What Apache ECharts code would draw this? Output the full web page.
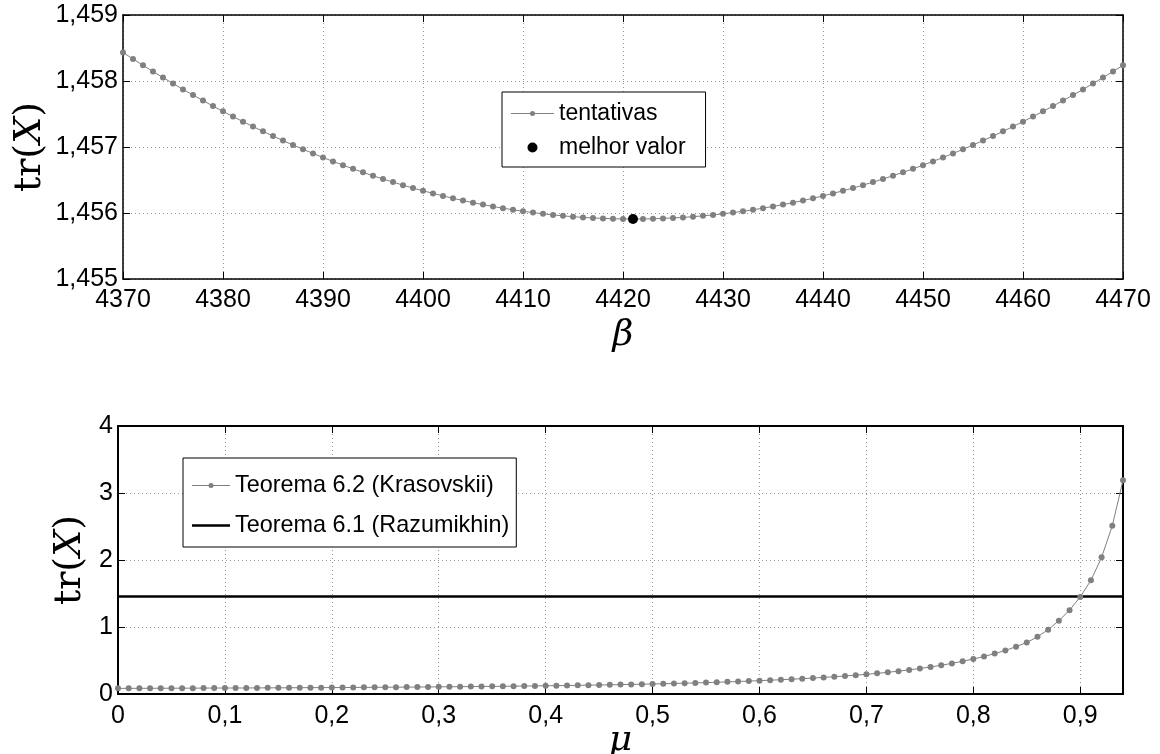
<!DOCTYPE html>
<html><head><meta charset="utf-8">
<script src="https://cdn.jsdelivr.net/npm/echarts@6/dist/echarts.min.js"></script>
<style>html,body{margin:0;padding:0;background:#fff}#c{width:1160px;height:754px}</style>
</head><body><div id="c"></div>
<script>
// ---- Top chart data (beta sweep) ----
const betaValues = [4370,4371,4372,4373,4374,4375,4376,4377,4378,4379,
4380,4381,4382,4383,4384,4385,4386,4387,4388,4389,
4390,4391,4392,4393,4394,4395,4396,4397,4398,4399,
4400,4401,4402,4403,4404,4405,4406,4407,4408,4409,
4410,4411,4412,4413,4414,4415,4416,4417,4418,4419,
4420,4421,4422,4423,4424,4425,4426,4427,4428,4429,
4430,4431,4432,4433,4434,4435,4436,4437,4438,4439,
4440,4441,4442,4443,4444,4445,4446,4447,4448,4449,
4450,4451,4452,4453,4454,4455,4456,4457,4458,4459,
4460,4461,4462,4463,4464,4465,4466,4467,4468,4469,
4470];
const trBeta = [1.458432,1.458334,1.458238,1.458144,1.458052,1.457962,1.457873,1.457787,1.457703,1.457620,
1.457540,1.457461,1.457384,1.457310,1.457237,1.457166,1.457097,1.457030,1.456965,1.456902,
1.456841,1.456782,1.456725,1.456669,1.456616,1.456565,1.456515,1.456468,1.456422,1.456378,
1.456337,1.456297,1.456259,1.456223,1.456189,1.456157,1.456127,1.456099,1.456073,1.456049,
1.456026,1.456006,1.455988,1.455971,1.455957,1.455944,1.455933,1.455925,1.455918,1.455913,
1.455910,1.455909,1.455910,1.455913,1.455918,1.455925,1.455933,1.455944,1.455957,1.455971,
1.455988,1.456006,1.456026,1.456049,1.456073,1.456099,1.456127,1.456157,1.456189,1.456223,
1.456259,1.456297,1.456337,1.456378,1.456422,1.456468,1.456515,1.456565,1.456616,1.456669,
1.456725,1.456782,1.456841,1.456902,1.456965,1.457030,1.457097,1.457166,1.457237,1.457310,
1.457384,1.457461,1.457540,1.457620,1.457703,1.457787,1.457873,1.457962,1.458052,1.458144,
1.458238];
const bestBeta = [4421];
const bestTr = [1.455909];

// ---- Bottom chart data (mu sweep) ----
const muValues = [0,0.01,0.02,0.03,0.04,0.05,0.06,0.07,0.08,0.09,
0.10,0.11,0.12,0.13,0.14,0.15,0.16,0.17,0.18,0.19,
0.20,0.21,0.22,0.23,0.24,0.25,0.26,0.27,0.28,0.29,
0.30,0.31,0.32,0.33,0.34,0.35,0.36,0.37,0.38,0.39,
0.40,0.41,0.42,0.43,0.44,0.45,0.46,0.47,0.48,0.49,
0.50,0.51,0.52,0.53,0.54,0.55,0.56,0.57,0.58,0.59,
0.60,0.61,0.62,0.63,0.64,0.65,0.66,0.67,0.68,0.69,
0.70,0.71,0.72,0.73,0.74,0.75,0.76,0.77,0.78,0.79,
0.80,0.81,0.82,0.83,0.84,0.85,0.86,0.87,0.88,0.89,
0.90,0.91,0.92,0.93,0.94];
const trKrasovskii = [0.084,0.084,0.085,0.085,0.086,0.086,0.087,0.087,0.088,0.089,
0.089,0.090,0.090,0.091,0.092,0.092,0.093,0.094,0.095,0.095,
0.096,0.097,0.098,0.099,0.100,0.101,0.102,0.103,0.104,0.105,
0.107,0.108,0.109,0.111,0.112,0.114,0.115,0.117,0.119,0.121,
0.123,0.125,0.127,0.129,0.132,0.134,0.137,0.140,0.143,0.146,
0.150,0.153,0.157,0.161,0.166,0.170,0.175,0.181,0.186,0.193,
0.199,0.206,0.213,0.221,0.229,0.238,0.248,0.258,0.269,0.281,
0.294,0.308,0.324,0.341,0.360,0.381,0.404,0.429,0.457,0.488,
0.522,0.560,0.603,0.651,0.706,0.770,0.853,0.960,1.095,1.250,
1.448,1.697,2.040,2.512,3.189];
const razX = [0, 0.94];
const razY = [1.4559, 1.4559];

const topYTicks = ['1,455','1,456','1,457','1,458','1,459'];

const SANS = 'Liberation Sans, Arial, Helvetica, sans-serif';
const SERIF = 'DejaVu Serif, serif';
const GRAY = '#808080';

function pairs(xs, ys){ return xs.map((x,i)=>[x, ys[i]]); }

const chart = echarts.init(document.getElementById('c'), null, {renderer:'canvas'});

const lbl = {color:'#000', fontFamily:SANS, fontSize:25};
const split = {show:true, lineStyle:{color:'#999', width:1, type:[1,3]}};
function boxAxis(kind, gridIndex, pos, min, max, interval, lw){
  return {type:'value', gridIndex, position:pos, min, max, interval,
    axisLine:{show:true, onZero:false, lineStyle:{color:'#000', width:lw}},
    axisTick:{show:true, inside:true, length:7, lineStyle:{color:'#000', width:1}},
    axisLabel:{show:false}, splitLine:{show:false}};
}
const trName = '{a|tr(}{b|X}{a|)}';
const trRich = {a:{fontFamily:SERIF, fontSize:38, color:'#000'}, b:{fontFamily:SERIF, fontStyle:'italic', fontSize:38, color:'#000'}};

const option = {
  animation:false,
  backgroundColor:'#fff',
  grid:[
    {left:123, right:37, top:15, height:264, outerBoundsMode:'none', containLabel:false},
    {left:118, right:37, top:426, height:268, outerBoundsMode:'none', containLabel:false}
  ],
  xAxis:[
    {type:'value', gridIndex:0, position:'bottom', min:4370, max:4470, interval:10,
     axisLine:{show:true, onZero:false, lineStyle:{color:'#000', width:1.5}},
     axisTick:{show:true, inside:true, length:7, lineStyle:{color:'#000', width:1}},
     axisLabel:Object.assign({margin:9, formatter:v=>String(v)}, lbl),
     splitLine:split,
     name:'β', nameLocation:'middle', nameGap:39, nameMoveOverlap:false,
     nameTextStyle:{fontFamily:SERIF, fontStyle:'italic', fontSize:36, color:'#000'}},
    boxAxis('x',0,'top',4370,4470,10,1.5),
    {type:'value', gridIndex:1, position:'bottom', min:0, max:0.94, interval:0.1,
     axisLine:{show:true, onZero:false, lineStyle:{color:'#000', width:2}},
     axisTick:{show:true, inside:true, length:7, lineStyle:{color:'#000', width:1}},
     axisLabel:Object.assign({margin:10, showMaxLabel:false, formatter:v=>{
        if (Math.abs(v*10-Math.round(v*10))>1e-6) return '';
        return v===0 ? '0' : v.toFixed(1).replace('.',',');}}, lbl),
     splitLine:split,
     name:'μ', nameLocation:'middle', nameGap:29, nameMoveOverlap:false,
     nameTextStyle:{fontFamily:SERIF, fontStyle:'italic', fontSize:36, color:'#000'}},
    boxAxis('x',1,'top',0,0.94,0.1,2)
  ],
  yAxis:[
    {type:'value', gridIndex:0, position:'left', min:1.455, max:1.459, interval:0.001,
     axisLine:{show:true, onZero:false, lineStyle:{color:'#000', width:1.5}},
     axisTick:{show:true, inside:true, length:7, lineStyle:{color:'#000', width:1}},
     axisLabel:Object.assign({margin:5, formatter:(v)=>topYTicks[Math.round((v-1.455)*1000)] || ''}, lbl),
     splitLine:split,
     name:trName, nameLocation:'middle', nameRotate:90, nameGap:74, nameMoveOverlap:false,
     nameTextStyle:{rich:trRich}},
    boxAxis('y',0,'right',1.455,1.459,0.001,1.5),
    {type:'value', gridIndex:1, position:'left', min:0, max:4, interval:1,
     axisLine:{show:true, onZero:false, lineStyle:{color:'#000', width:2}},
     axisTick:{show:true, inside:true, length:7, lineStyle:{color:'#000', width:1}},
     axisLabel:Object.assign({margin:5}, lbl),
     splitLine:split,
     name:trName, nameLocation:'middle', nameRotate:90, nameGap:29, nameMoveOverlap:false,
     nameTextStyle:{rich:trRich}},
    boxAxis('y',1,'right',0,4,1,2)
  ],
  legend:[
    {data:[{name:'tentativas', icon:'path://M0,4.5L43,4.5L43,5.5L0,5.5Z M19,5A2.5,2.5,0,1,1,24,5A2.5,2.5,0,1,1,19,5Z M0,0L0,0Z M43,10L43,10Z'},
           {name:'melhor valor', icon:'circle'}],
     left:502, top:92, orient:'vertical', itemWidth:43, itemHeight:10, itemGap:11,
     padding:[10,20,8,9], borderColor:'#000', borderWidth:1, backgroundColor:'#fff',
     selectedMode:false, itemStyle:{borderWidth:0},
     textStyle:{fontFamily:SANS, fontSize:23, color:'#000'}},
    {data:[{name:'Teorema 6.2 (Krasovskii)', icon:'path://M0,4.5L38,4.5L38,5.5L0,5.5Z M16.5,5A2.5,2.5,0,1,1,21.5,5A2.5,2.5,0,1,1,16.5,5Z M0,0L0,0Z M38,10L38,10Z'},
           {name:'Teorema 6.1 (Razumikhin)', icon:'path://M0,3.75L38,3.75L38,6.25L0,6.25Z M0,0L0,0Z M38,10L38,10Z'}],
     left:183, top:458, orient:'vertical', itemWidth:38, itemHeight:10, itemGap:17,
     padding:[16,7,10,9], borderColor:'#000', borderWidth:1, backgroundColor:'#fff',
     selectedMode:false, itemStyle:{borderWidth:0},
     textStyle:{fontFamily:SANS, fontSize:23.4, color:'#000'}}
  ],
  series:[
    {name:'tentativas', type:'line', xAxisIndex:0, yAxisIndex:0, data:pairs(betaValues, trBeta),
     symbol:'circle', symbolSize:6, showAllSymbol:true, color:GRAY,
     lineStyle:{color:GRAY, width:1}, itemStyle:{color:GRAY}, clip:false},
    {name:'melhor valor', type:'scatter', xAxisIndex:0, yAxisIndex:0, data:pairs(bestBeta, bestTr),
     symbol:'circle', symbolSize:10, color:'#000', itemStyle:{color:'#000', opacity:1}, z:5},
    {name:'Teorema 6.2 (Krasovskii)', type:'line', xAxisIndex:2, yAxisIndex:2, data:pairs(muValues, trKrasovskii),
     symbol:'circle', symbolSize:6, showAllSymbol:true, color:GRAY,
     lineStyle:{color:GRAY, width:1}, itemStyle:{color:GRAY}, clip:false},
    {name:'Teorema 6.1 (Razumikhin)', type:'line', xAxisIndex:2, yAxisIndex:2, data:pairs(razX, razY),
     symbol:'none', color:'#000', lineStyle:{color:'#000', width:2.5}}
  ]
};
chart.setOption(option);
</script></body></html>
